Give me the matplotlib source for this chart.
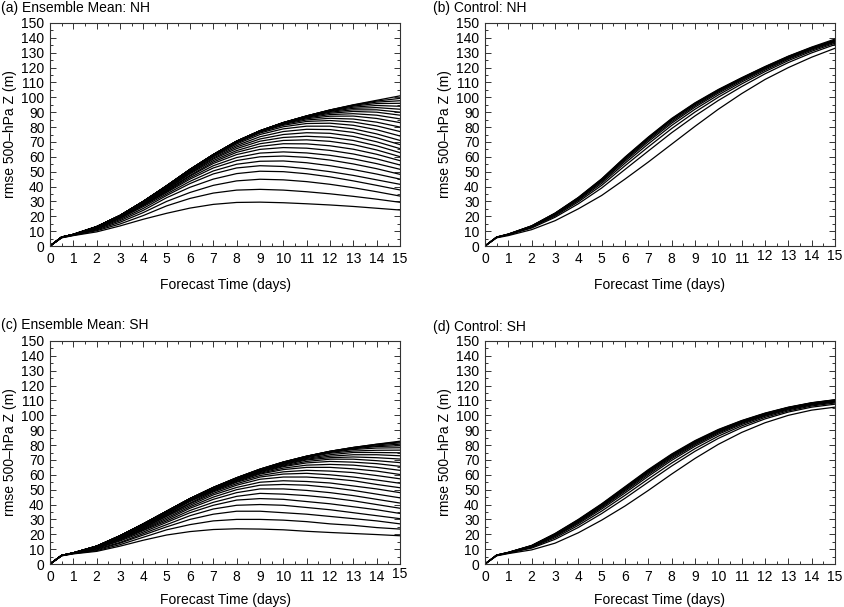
import numpy as np
import matplotlib
matplotlib.use("Agg")
import matplotlib.pyplot as plt
from matplotlib.ticker import MultipleLocator
from matplotlib.transforms import ScaledTranslation

plt.rcParams['font.family'] = ['Liberation Sans', 'DejaVu Sans']
plt.rcParams['font.size'] = 10

# forecast days (12 h first step, then daily)
days = [0, 0.5, 1, 2, 3, 4, 5, 6, 7, 8, 9, 10, 11, 12, 13, 14, 15]

# (a) ensemble mean, NH -- bottom curve to top curve
mean_nh = [
    [0, 5.5, 7.0, 9.5, 13.5, 18.0, 22.0, 25.5, 28.0, 29.3, 29.5, 29.1, 28.4, 27.6, 26.6, 25.4, 24.2],
    [0, 5.6, 7.2, 10.3, 14.8, 20.5, 27.0, 32.0, 35.6, 37.6, 38.1, 37.6, 36.5, 35.1, 33.4, 31.5, 29.4],
    [0, 5.7, 7.3, 10.8, 16.0, 22.5, 30.0, 36.0, 40.8, 43.8, 44.9, 44.5, 43.3, 41.5, 39.2, 36.5, 33.6],
    [0, 5.8, 7.4, 11.3, 17.0, 24.0, 32.5, 39.5, 45.0, 48.7, 50.3, 50.0, 48.6, 46.5, 43.8, 40.8, 37.7],
    [0, 5.8, 7.5, 11.7, 17.8, 25.3, 34.0, 42.0, 48.5, 52.5, 54.0, 53.5, 52.0, 50.0, 47.5, 44.5, 41.5],
    [0, 5.9, 7.5, 12.0, 18.5, 26.5, 35.0, 43.5, 50.5, 55.0, 57.0, 57.2, 56.0, 54.0, 51.4, 48.4, 45.0],
    [0, 5.9, 7.6, 12.3, 19.0, 27.2, 36.0, 45.0, 52.5, 57.5, 60.0, 60.5, 59.6, 57.8, 55.2, 52.0, 48.2],
    [0, 5.9, 7.6, 12.4, 19.2, 27.6, 36.5, 46.0, 54.0, 59.5, 62.5, 63.3, 62.6, 61.0, 58.6, 55.4, 51.6],
    [0, 6.0, 7.6, 12.5, 19.5, 28.0, 37.0, 47.0, 55.5, 61.5, 65.0, 66.2, 65.8, 64.3, 61.9, 58.6, 54.5],
    [0, 6.0, 7.7, 12.6, 19.7, 28.4, 37.5, 47.5, 56.5, 63.0, 67.0, 68.8, 68.7, 67.4, 65.1, 61.7, 57.4],
    [0, 6.0, 7.7, 12.7, 19.9, 28.8, 38.0, 48.5, 57.5, 64.2, 68.8, 71.0, 71.4, 70.4, 68.2, 64.6, 60.1],
    [0, 6.0, 7.7, 12.8, 20.1, 29.1, 38.5, 49.0, 58.5, 65.5, 70.5, 73.0, 73.8, 73.1, 71.0, 67.4, 62.8],
    [0, 6.0, 7.7, 12.9, 20.2, 29.4, 39.0, 49.5, 59.2, 66.6, 72.0, 75.0, 76.2, 75.8, 73.7, 70.1, 65.5],
    [0, 6.0, 7.8, 12.9, 20.3, 29.6, 39.5, 50.0, 60.0, 67.6, 73.5, 77.0, 78.5, 78.3, 76.4, 72.8, 68.2],
    [0, 6.0, 7.8, 13.0, 20.4, 29.8, 39.8, 50.5, 60.5, 68.6, 75.0, 78.8, 80.6, 80.6, 78.8, 75.4, 71.0],
    [0, 6.0, 7.8, 13.0, 20.5, 30.0, 40.0, 50.8, 60.9, 69.3, 76.0, 80.2, 82.4, 82.6, 81.2, 78.2, 74.0],
    [0, 6.0, 7.8, 13.0, 20.5, 30.0, 40.2, 51.0, 61.1, 69.8, 76.6, 81.2, 83.8, 84.4, 83.4, 80.8, 77.0],
    [0, 6.0, 7.8, 13.0, 20.5, 30.0, 40.3, 51.2, 61.3, 70.1, 77.0, 81.8, 84.8, 85.9, 85.4, 83.3, 80.0],
    [0, 6.0, 7.8, 13.0, 20.5, 30.0, 40.4, 51.3, 61.4, 70.3, 77.2, 82.2, 85.6, 87.3, 87.4, 85.8, 83.0],
    [0, 6.0, 7.8, 13.0, 20.5, 30.0, 40.5, 51.4, 61.4, 70.4, 77.3, 82.5, 86.2, 88.4, 89.0, 88.0, 85.5],
    [0, 6.0, 7.8, 13.0, 20.5, 30.0, 40.5, 51.5, 61.5, 70.5, 77.4, 82.7, 86.6, 89.3, 90.5, 90.0, 88.0],
    [0, 6.0, 7.8, 13.0, 20.5, 30.0, 40.5, 51.5, 61.5, 70.5, 77.5, 82.8, 86.9, 90.0, 91.6, 91.6, 90.0],
    [0, 6.0, 7.8, 13.0, 20.5, 30.0, 40.5, 51.5, 61.5, 70.5, 77.5, 82.9, 87.1, 90.5, 92.6, 93.1, 92.0],
    [0, 6.0, 7.8, 13.0, 20.5, 30.0, 40.5, 51.5, 61.5, 70.5, 77.5, 83.0, 87.3, 90.9, 93.4, 94.5, 94.0],
    [0, 6.0, 7.8, 13.0, 20.5, 30.0, 40.5, 51.5, 61.5, 70.5, 77.5, 83.0, 87.4, 91.2, 94.1, 95.8, 96.0],
    [0, 6.0, 7.8, 13.0, 20.5, 30.0, 40.5, 51.5, 61.5, 70.5, 77.5, 83.0, 87.5, 91.4, 94.6, 96.8, 97.7],
    [0, 6.0, 7.8, 13.0, 20.5, 30.0, 40.5, 51.5, 61.5, 70.5, 77.5, 83.0, 87.5, 91.5, 94.8, 97.5, 99.3],
    [0, 6.0, 7.8, 13.0, 20.5, 30.0, 40.5, 51.5, 61.5, 70.5, 77.5, 83.0, 87.5, 91.5, 95.0, 98.0, 101.0],
]

# (b) control, NH
ctrl_nh = [
    [0, 5.5, 7.0, 11.0, 17.0, 25.0, 34.0, 45.0, 56.5, 68.5, 80.5, 92.0, 102.5, 112.0, 120.0, 127.0, 133.0],
    [0, 5.7, 7.5, 12.1, 19.3, 28.4, 39.0, 51.5, 63.9, 76.2, 87.5, 97.9, 107.2, 115.8, 123.4, 129.9, 135.5],
    [0, 5.8, 7.6, 12.6, 20.1, 29.7, 40.8, 54.0, 66.7, 79.0, 90.1, 100.1, 109.0, 117.3, 124.7, 131.0, 136.4],
    [0, 5.9, 7.7, 12.9, 20.7, 30.6, 42.1, 55.7, 68.7, 81.1, 92.0, 101.6, 110.3, 118.3, 125.6, 131.8, 137.1],
    [0, 5.9, 7.8, 13.1, 21.2, 31.2, 43.1, 57.0, 70.2, 82.6, 93.4, 102.8, 111.2, 119.1, 126.2, 132.4, 137.6],
    [0, 5.9, 7.9, 13.2, 21.5, 31.7, 43.8, 57.9, 71.2, 83.6, 94.3, 103.6, 111.9, 119.6, 126.7, 132.8, 137.9],
    [0, 6.0, 7.9, 13.4, 21.7, 32.1, 44.3, 58.6, 72.0, 84.5, 95.1, 104.2, 112.4, 120.0, 127.1, 133.1, 138.2],
    [0, 6.0, 8.0, 13.4, 21.9, 32.3, 44.7, 59.1, 72.5, 85.0, 95.5, 104.6, 112.7, 120.2, 127.3, 133.3, 138.3],
    [0, 6.0, 8.0, 13.5, 22.0, 32.5, 45.0, 59.5, 73.0, 85.5, 96.0, 105.0, 113.0, 120.5, 127.5, 133.5, 138.5],
    [0, 6.0, 8.0, 13.6, 22.1, 32.7, 45.2, 59.8, 73.3, 85.8, 96.3, 105.3, 113.2, 120.7, 127.7, 133.8, 139.2],
]

# (c) ensemble mean, SH
mean_sh = [
    [0, 5.5, 6.8, 8.5, 12.0, 16.0, 19.5, 21.8, 23.2, 23.7, 23.5, 23.0, 22.0, 21.2, 20.5, 19.8, 19.0],
    [0, 5.6, 7.0, 9.0, 13.0, 18.0, 23.0, 26.5, 29.0, 30.0, 30.0, 29.5, 28.5, 27.0, 26.0, 24.5, 23.5],
    [0, 5.6, 7.1, 9.5, 14.0, 19.5, 25.0, 30.0, 33.5, 35.5, 35.5, 34.5, 33.5, 32.0, 30.5, 29.0, 27.0],
    [0, 5.7, 7.2, 10.0, 14.5, 20.5, 26.5, 32.5, 37.0, 39.5, 40.0, 39.5, 38.0, 36.5, 34.5, 32.5, 30.5],
    [0, 5.7, 7.2, 10.5, 15.5, 21.5, 28.0, 34.5, 39.5, 43.0, 44.0, 43.5, 42.0, 40.5, 38.5, 36.5, 34.0],
    [0, 5.7, 7.3, 10.5, 16.0, 22.5, 29.0, 36.0, 41.5, 45.5, 47.5, 47.0, 46.0, 44.5, 42.5, 40.0, 37.5],
    [0, 5.7, 7.3, 11.0, 16.5, 23.0, 30.0, 37.5, 43.5, 48.0, 50.5, 50.5, 49.5, 48.0, 46.0, 43.5, 41.0],
    [0, 5.8, 7.3, 11.0, 17.0, 23.5, 31.0, 38.5, 45.0, 50.0, 53.0, 53.5, 53.0, 51.5, 49.5, 47.0, 44.5],
    [0, 5.8, 7.4, 11.0, 17.0, 24.0, 32.0, 39.5, 46.5, 51.5, 55.0, 56.0, 55.5, 54.5, 52.5, 50.5, 48.0],
    [0, 5.8, 7.4, 11.5, 17.5, 24.5, 32.5, 40.5, 47.5, 53.0, 57.0, 58.5, 58.5, 57.5, 56.0, 53.5, 51.3],
    [0, 5.8, 7.4, 11.5, 17.5, 25.0, 33.0, 41.0, 48.5, 54.0, 58.5, 60.5, 61.0, 60.0, 58.5, 56.5, 54.3],
    [0, 5.8, 7.4, 11.5, 18.0, 25.5, 33.5, 42.0, 49.0, 55.0, 59.5, 62.0, 63.0, 62.5, 61.5, 59.5, 57.3],
    [0, 5.8, 7.4, 11.5, 18.0, 25.5, 34.0, 42.5, 49.5, 55.5, 60.5, 63.5, 65.0, 65.0, 64.0, 62.5, 60.2],
    [0, 5.8, 7.5, 12.0, 18.5, 26.0, 34.5, 43.0, 50.0, 56.0, 61.0, 64.5, 66.5, 67.0, 66.5, 65.0, 63.0],
    [0, 5.8, 7.5, 12.0, 18.5, 26.0, 34.5, 43.0, 50.0, 56.5, 61.5, 65.5, 68.0, 69.0, 68.5, 67.5, 65.7],
    [0, 5.8, 7.5, 12.0, 18.5, 26.5, 35.0, 43.5, 50.5, 56.5, 62.0, 66.0, 69.0, 70.5, 70.5, 69.5, 68.2],
    [0, 5.8, 7.5, 12.0, 18.5, 26.5, 35.0, 43.5, 50.5, 57.0, 62.5, 66.5, 70.0, 71.5, 72.0, 71.5, 70.6],
    [0, 5.8, 7.5, 12.0, 19.0, 26.5, 35.0, 43.5, 50.5, 57.0, 62.5, 67.0, 70.5, 72.5, 73.5, 73.5, 72.8],
    [0, 5.8, 7.5, 12.0, 19.0, 27.0, 35.5, 44.0, 51.0, 57.0, 63.0, 67.5, 71.0, 73.5, 75.0, 75.0, 74.8],
    [0, 5.8, 7.5, 12.0, 19.0, 27.0, 35.5, 44.0, 51.0, 57.5, 63.0, 67.5, 71.5, 74.5, 76.0, 76.5, 76.6],
    [0, 5.8, 7.5, 12.0, 19.0, 27.0, 35.5, 44.0, 51.0, 57.5, 63.0, 68.0, 72.0, 75.0, 77.0, 78.0, 78.2],
    [0, 5.8, 7.5, 12.0, 19.0, 27.0, 35.5, 44.0, 51.5, 57.5, 63.5, 68.0, 72.0, 75.5, 77.5, 79.0, 79.5],
    [0, 5.8, 7.5, 12.0, 19.0, 27.0, 35.5, 44.0, 51.5, 58.0, 63.5, 68.5, 72.5, 75.5, 78.0, 79.5, 80.6],
    [0, 5.8, 7.5, 12.0, 19.0, 27.0, 35.5, 44.0, 51.5, 58.0, 63.8, 68.5, 72.5, 75.8, 78.3, 80.1, 81.5],
    [0, 5.8, 7.5, 12.0, 19.0, 27.0, 35.5, 44.0, 51.5, 58.0, 63.8, 68.6, 72.5, 75.8, 78.4, 80.5, 82.1],
    [0, 5.8, 7.5, 12.0, 19.0, 27.0, 35.5, 44.0, 51.5, 58.0, 63.8, 68.6, 72.5, 75.8, 78.4, 80.6, 82.6],
]

# (d) control, SH
ctrl_sh = [
    [0, 5.5, 7.0, 9.5, 14.0, 21.0, 29.5, 39.0, 49.5, 60.5, 71.0, 80.5, 88.5, 95.0, 100.0, 103.5, 105.5],
    [0, 5.7, 7.3, 10.7, 16.6, 24.6, 33.9, 44.2, 55.1, 65.9, 75.8, 84.5, 91.7, 97.6, 102.2, 105.5, 107.5],
    [0, 5.8, 7.4, 11.2, 17.6, 26.0, 35.6, 46.2, 57.2, 67.9, 77.6, 86.0, 92.9, 98.6, 103.0, 106.3, 108.3],
    [0, 5.8, 7.5, 11.5, 18.4, 27.1, 37.0, 47.8, 59.0, 69.7, 79.2, 87.3, 93.9, 99.4, 103.7, 106.9, 108.9],
    [0, 5.9, 7.6, 11.8, 18.9, 27.8, 37.9, 48.9, 60.1, 70.8, 80.1, 88.1, 94.6, 99.9, 104.2, 107.3, 109.3],
    [0, 5.9, 7.7, 12.0, 19.3, 28.4, 38.5, 49.7, 61.0, 71.6, 80.8, 88.7, 95.1, 100.3, 104.5, 107.6, 109.6],
    [0, 5.9, 7.7, 12.1, 19.7, 28.8, 39.1, 50.3, 61.7, 72.3, 81.4, 89.2, 95.5, 100.7, 104.8, 107.9, 109.9],
    [0, 6.0, 7.7, 12.2, 19.9, 29.2, 39.5, 50.8, 62.2, 72.8, 81.9, 89.6, 95.8, 100.9, 105.0, 108.1, 110.1],
    [0, 6.0, 7.8, 12.3, 20.1, 29.5, 39.8, 51.2, 62.7, 73.2, 82.3, 89.9, 96.0, 101.1, 105.2, 108.2, 110.2],
    [0, 6.0, 7.8, 12.4, 20.3, 29.7, 40.2, 51.6, 63.1, 73.6, 82.6, 90.2, 96.3, 101.3, 105.3, 108.4, 110.4],
    [0, 6.0, 7.8, 12.5, 20.5, 30.0, 40.5, 52.0, 63.5, 74.0, 83.0, 90.5, 96.5, 101.5, 105.5, 108.5, 110.5],
]

titles = ['(a) Ensemble Mean: NH', '(b) Control: NH', '(c) Ensemble Mean: SH', '(d) Control: SH']
panels = [mean_nh, ctrl_nh, mean_sh, ctrl_sh]
# x tick labels that sit a little higher in the original figure
raised = [[], [12, 13, 14, 15], [15], []]

W, H = 844, 607
fig = plt.figure(figsize=(W / 100, H / 100), dpi=100)

# axes boxes in pixels: left, top
boxes = [(50, 23), (485, 23), (50, 341), (485, 341)]
title_pos = [(1, 8), (433, 8), (1, 325), (433, 327)]
xlab_pad = [9, 9, 6.5, 6.5]
aw, ah = 350, 223

for i in range(4):
    l, t = boxes[i]
    ax = fig.add_axes([l / W, 1 - (t + ah) / H, aw / W, ah / H])
    for c in panels[i]:
        ax.plot(days, c, color='black', lw=0.9)
    ax.set_xlim(0, 15)
    ax.set_ylim(0, 150)
    ax.set_xticks(range(16))
    ax.set_yticks(range(0, 151, 10))
    ax.xaxis.set_minor_locator(MultipleLocator(0.5))
    ax.yaxis.set_minor_locator(MultipleLocator(5))
    ax.tick_params(which='both', direction='in', top=True, right=True, width=0.7, color='#333333')
    ax.tick_params(which='major', length=4, pad=4, labelsize=10)
    ax.tick_params(which='minor', length=2)
    for s in ax.spines.values():
        s.set_linewidth(0.8)
        s.set_color('#333333')
    ax.set_xlabel('Forecast Time (days)', fontsize=10, labelpad=xlab_pad[i])
    ax.set_ylabel('rmse 500\u2013hPa Z (m)', fontsize=10, labelpad=3)
    ticks = ax.xaxis.get_major_ticks()
    for k in raised[i]:
        lab = ticks[k].label1
        lab.set_transform(lab.get_transform() + ScaledTranslation(0, 2.5 / 100, fig.dpi_scale_trans))
    fig.text(title_pos[i][0] / W, 1 - title_pos[i][1] / H, titles[i],
             fontsize=10, ha='left', va='center')

fig.savefig('out.png', dpi=100)
